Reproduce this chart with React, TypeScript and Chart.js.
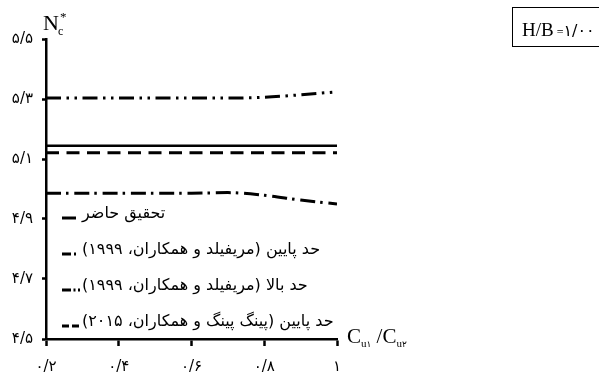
import React, { useEffect, useRef } from "react";
import { Chart, registerables } from "chart.js";

Chart.register(...registerables);

// ---------- data ----------
const cuRatio = [0.2, 0.3, 0.4, 0.5, 0.6, 0.7, 0.8, 0.9, 1.0];
const presentStudy = [5.144, 5.144, 5.144, 5.144, 5.144, 5.144, 5.144, 5.144, 5.144];
const merifieldLower = [4.986, 4.986, 4.986, 4.986, 4.986, 4.988, 4.979, 4.963, 4.95];
const merifieldUpper = [5.303, 5.303, 5.303, 5.303, 5.303, 5.303, 5.306, 5.314, 5.324];
const pingLower = [5.121, 5.121, 5.121, 5.121, 5.121, 5.121, 5.121, 5.121, 5.121];
const xTickValues = [0.2, 0.4, 0.6, 0.8, 1.0];
const yTickValues = [4.5, 4.7, 4.9, 5.1, 5.3, 5.5];
const seriesNames = [
  "تحقیق حاضر",
  "حد پایین (مریفیلد و همکاران، ۱۹۹۹)",
  "حد بالا (مریفیلد و همکاران، ۱۹۹۹)",
  "حد پایین (پینگ پینگ و همکاران، ۲۰۱۵)",
];

const FA_DIGITS = "۰۱۲۳۴۵۶۷۸۹";
const toFa = (s: string) =>
  s.replace(/\d/g, (d) => FA_DIGITS[Number(d)]).replace(".", "/");

const FA_FONT = '"DejaVu Sans"';
const SERIF = '"Liberation Serif", "DejaVu Serif", serif';

const lineStyles = [
  { width: 2.5, dash: [] as number[] },
  { width: 3, dash: [15, 5, 2.5, 5.8] },
  { width: 3, dash: [15, 5.5, 2.5, 5.5, 2.5, 5.5] },
  { width: 3, dash: [13, 7.5] },
];
const sampleDash = [[], [9, 3, 2, 3], [9, 2.5, 2, 2.5, 2, 2.5], [7, 3]];
const sampleLen = [14, 17, 18, 17];

const legendPlugin = {
  id: "rtlLegend",
  afterDraw(chart: any) {
    const ctx: CanvasRenderingContext2D = chart.ctx;
    const area = chart.chartArea;
    ctx.save();
    chart.data.datasets.forEach((ds: any, i: number) => {
      const cy = area.top + 175 + i * 36;
      const sx = area.left + 16;
      ctx.beginPath();
      ctx.setLineDash(sampleDash[i]);
      ctx.lineWidth = 3;
      ctx.strokeStyle = "#000";
      ctx.lineCap = "butt";
      ctx.moveTo(sx, cy + 4);
      ctx.lineTo(sx + sampleLen[i], cy + 4);
      ctx.stroke();
      ctx.setLineDash([]);
      ctx.fillStyle = "#000";
      ctx.font = `16px ${FA_FONT}`;
      (ctx as any).direction = "rtl";
      ctx.textAlign = "left";
      ctx.textBaseline = "middle";
      ctx.fillText(ds.label, area.left + 36, cy);
    });
    ctx.restore();
  },
};

export default function App() {
  const canvasRef = useRef<HTMLCanvasElement | null>(null);

  useEffect(() => {
    const canvas = canvasRef.current;
    if (!canvas) return;
    const series = [presentStudy, merifieldLower, merifieldUpper, pingLower];
    const chart = new Chart(canvas, {
      type: "line",
      data: {
        datasets: series.map((vals, i) => ({
          label: seriesNames[i],
          data: cuRatio.map((x, j) => ({ x, y: vals[j] })),
          borderColor: "#000",
          backgroundColor: "#000",
          borderWidth: lineStyles[i].width,
          borderDash: lineStyles[i].dash,
          borderCapStyle: "butt",
          pointRadius: 0,
          cubicInterpolationMode: "monotone",
          fill: false,
        })),
      },
      options: {
        animation: false,
        responsive: false,
        devicePixelRatio: 1,
        layout: { padding: { top: 39, right: 262, left: 0, bottom: 0 } },
        plugins: { legend: { display: false }, tooltip: { enabled: false } },
        scales: {
          x: {
            type: "linear",
            min: 0.2,
            max: 1.0,
            afterBuildTicks: (scale: any) => {
              scale.ticks = xTickValues.map((v) => ({ value: v }));
            },
            afterFit: (scale: any) => {
              scale.height = 39;
            },
            ticks: {
              autoSkip: false,
              maxRotation: 0,
              color: "#000",
              padding: 12,
              font: { size: 15, family: FA_FONT },
              callback: (v: any) => {
                const n = Number(v);
                return Math.abs(n - 1) < 1e-9 ? toFa("1") : toFa(n.toFixed(1));
              },
            },
            grid: {
              drawOnChartArea: false,
              drawTicks: true,
              tickLength: 7,
              tickWidth: 2.5,
              tickColor: "#000",
            },
            border: { display: true, color: "#000", width: 2.5 },
          },
          y: {
            type: "linear",
            min: 4.5,
            max: 5.5,
            afterBuildTicks: (scale: any) => {
              scale.ticks = yTickValues.map((v) => ({ value: v }));
            },
            afterFit: (scale: any) => {
              scale.width = 46;
            },
            ticks: {
              autoSkip: false,
              color: "#000",
              padding: 9,
              font: { size: 15, family: FA_FONT },
              callback: (v: any) => toFa(Number(v).toFixed(1)),
            },
            grid: {
              drawOnChartArea: false,
              drawTicks: true,
              tickLength: 4,
              tickWidth: 2.5,
              tickColor: "#000",
            },
            border: { display: true, color: "#000", width: 2.5 },
          },
        },
      },
      plugins: [legendPlugin],
    } as any);
    return () => chart.destroy();
  }, []);

  const abs = (left: number, top: number, size: number, family = SERIF): React.CSSProperties => ({
    position: "absolute",
    left,
    top,
    fontSize: size,
    fontFamily: family,
    lineHeight: 1,
    whiteSpace: "nowrap",
    color: "#000",
  });

  return (
    <div
      style={{
        position: "fixed",
        left: 0,
        top: 0,
        width: 599,
        height: 378,
        overflow: "hidden",
        background: "#fff",
      }}
    >
      <canvas
        ref={canvasRef}
        width={599}
        height={378}
        style={{ position: "absolute", left: 0, top: 0, width: 599, height: 378 }}
      />
      {/* y-axis title N*c */}
      <span style={abs(43, 12, 22)}>N</span>
      <span style={abs(60, 10, 13)}>*</span>
      <span style={abs(58, 25, 12)}>c</span>
      {/* x-axis title Cu1/Cu2 */}
      <div style={abs(347, 326, 21)}>
        C
        <span style={{ fontSize: 11, verticalAlign: -4 }}>
          u<span style={{ fontFamily: FA_FONT, fontSize: 9 }}>۱</span>
        </span>
        {" /C"}
        <span style={{ fontSize: 11, verticalAlign: -4 }}>
          u<span style={{ fontFamily: FA_FONT, fontSize: 9 }}>۲</span>
        </span>
      </div>
      {/* H/B box */}
      <div
        style={{
          position: "absolute",
          left: 512,
          top: 7,
          width: 110,
          height: 38,
          border: "1.5px solid #000",
          boxSizing: "content-box",
        }}
      >
        <div style={{ ...abs(9, 12, 19), display: "flex", alignItems: "baseline" }}>
          <span>H/B</span>
          <span style={{ fontSize: 12, marginLeft: 3 }}>=</span>
          <span style={{ fontFamily: FA_FONT, fontSize: 16, letterSpacing: 1 }}>۱/۰۰</span>
        </div>
      </div>
    </div>
  );
}
